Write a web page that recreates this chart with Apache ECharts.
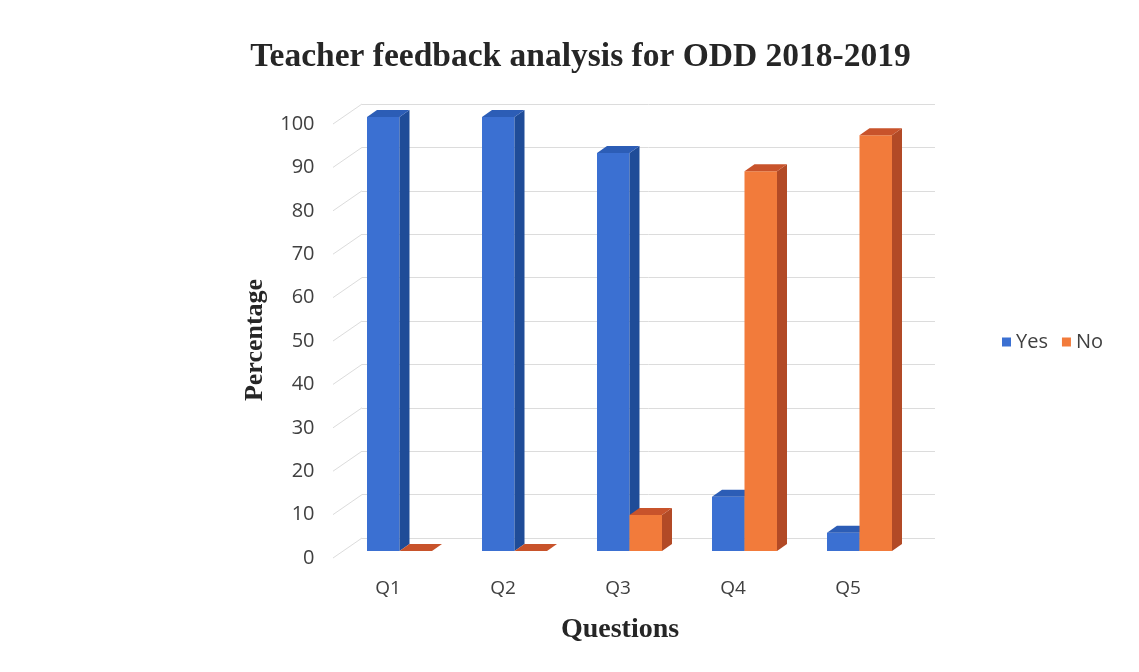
<!DOCTYPE html>
<html>
<head>
<meta charset="utf-8">
<script src="https://cdn.jsdelivr.net/npm/echarts@6/dist/echarts.min.js"></script>
<style>
html,body{margin:0;padding:0;background:#ffffff;}
#chart{width:1139px;height:672px;}
</style>
</head>
<body>
<div id="chart"></div>
<script>
// ---- data ----
const categories = ['Q1', 'Q2', 'Q3', 'Q4', 'Q5'];
const yesValues = [100, 100, 91.7, 12.5, 4.2];
const noValues = [0, 0, 8.3, 87.5, 95.8];
const yTicks = [0, 10, 20, 30, 40, 50, 60, 70, 80, 90, 100];
const seriesNames = ['Yes', 'No'];

// ---- styles ----
const faceColors = [
  { front: '#3b70d2', side: '#1f4c98', top: '#2c5db6' },
  { front: '#f27b3b', side: '#b24a26', top: '#c8532b' }
];
const DEPTH_X = 10, DEPTH_Y = 7, BAR_W = 32.5;

const chart = echarts.init(document.getElementById('chart'), null, { renderer: 'canvas' });

function bar3d(sIdx) {
  return function (params, api) {
    const cat = api.value(0);
    const c = api.coord([cat, api.value(1)]);
    const b = api.coord([cat, 0]);
    const x0 = sIdx === 0 ? c[0] - BAR_W : c[0];
    const x1 = x0 + BAR_W;
    const top = c[1], bottom = b[1];
    const col = faceColors[sIdx];
    return {
      type: 'group',
      children: [
        { type: 'rect', shape: { x: x0, y: top, width: BAR_W, height: bottom - top },
          style: { fill: col.front } },
        { type: 'polygon', shape: { points: [[x1, top], [x1 + DEPTH_X, top - DEPTH_Y], [x1 + DEPTH_X, bottom - DEPTH_Y], [x1, bottom]] },
          style: { fill: col.side } },
        { type: 'polygon', shape: { points: [[x0, top], [x0 + DEPTH_X, top - DEPTH_Y], [x1 + DEPTH_X, top - DEPTH_Y], [x1, top]] },
          style: { fill: col.top } }
      ]
    };
  };
}

const labelFont = 'Open Sans';
const option = {
  backgroundColor: '#ffffff',
  animation: false,
  grid: [
    { left: 330.5, top: 124, width: 575, height: 434 },   // label / side-wall plane
    { left: 362, top: 104, width: 573, height: 434 },     // back wall
    { left: 342, top: 117, width: 575, height: 434 }      // bar front faces
  ],
  xAxis: [
    { gridIndex: 0, type: 'category', data: categories,
      axisLine: { show: false }, axisTick: { show: false },
      axisLabel: { margin: 21, fontSize: 19, color: '#404040', fontFamily: labelFont } },
    { gridIndex: 1, type: 'category', data: categories, show: false },
    { gridIndex: 2, type: 'category', data: categories, show: false }
  ],
  yAxis: [
    { gridIndex: 0, type: 'value', min: 0, max: 100, interval: 10,
      axisLine: { show: false }, axisTick: { show: false }, splitLine: { show: false },
      axisLabel: { margin: 16, fontSize: 20, color: '#404040', fontFamily: labelFont } },
    { gridIndex: 1, type: 'value', min: 0, max: 100, interval: 10,
      axisLine: { show: false }, axisTick: { show: false }, axisLabel: { show: false },
      splitLine: { show: true, lineStyle: { color: '#dcdcdc', width: 1 } } },
    { gridIndex: 2, type: 'value', min: 0, max: 100, interval: 10, show: false,
      splitLine: { show: false } }
  ],
  legend: {
    data: seriesNames,
    left: 997, top: 327,
    itemWidth: 9, itemHeight: 9, itemGap: 14,
    icon: 'rect',
    textStyle: { fontSize: 20, color: '#404040', fontFamily: labelFont }
  },
  graphic: [
    { type: 'text', x: 580.5, y: 57,
      style: { text: 'Teacher feedback analysis for ODD 2018-2019', fontSize: 33.5, fontWeight: 'bold',
               fontFamily: 'Liberation Serif', fill: '#262626', align: 'center', verticalAlign: 'middle' } },
    { type: 'text', x: 255, y: 340, rotation: Math.PI / 2,
      style: { text: 'Percentage', fontSize: 26, fontWeight: 'bold', fontFamily: 'Liberation Serif',
               fill: '#262626', align: 'center', verticalAlign: 'middle' } },
    { type: 'text', x: 620, y: 630,
      style: { text: 'Questions', fontSize: 28, fontWeight: 'bold', fontFamily: 'Liberation Serif',
               fill: '#262626', align: 'center', verticalAlign: 'middle' } }
  ],
  series: [
    { type: 'custom', name: 'sidewall', xAxisIndex: 0, yAxisIndex: 0, silent: true,
      data: yTicks.map(v => [0, v]),
      renderItem: function (params, api) {
        const p = api.coord([0, api.value(1)]);
        const x = params.coordSys.x;
        return { type: 'line', shape: { x1: x + 2.5, y1: p[1], x2: x + 31.5, y2: p[1] - 20 },
                 style: { stroke: '#dcdcdc', lineWidth: 1 } };
      }
    },
    { type: 'custom', name: 'Yes', xAxisIndex: 2, yAxisIndex: 2,
      itemStyle: { color: faceColors[0].front },
      data: yesValues.map((v, i) => [i, v]), renderItem: bar3d(0) },
    { type: 'custom', name: 'No', xAxisIndex: 2, yAxisIndex: 2,
      itemStyle: { color: faceColors[1].front },
      data: noValues.map((v, i) => [i, v]), renderItem: bar3d(1) }
  ]
};
chart.setOption(option);
</script>
</body>
</html>
